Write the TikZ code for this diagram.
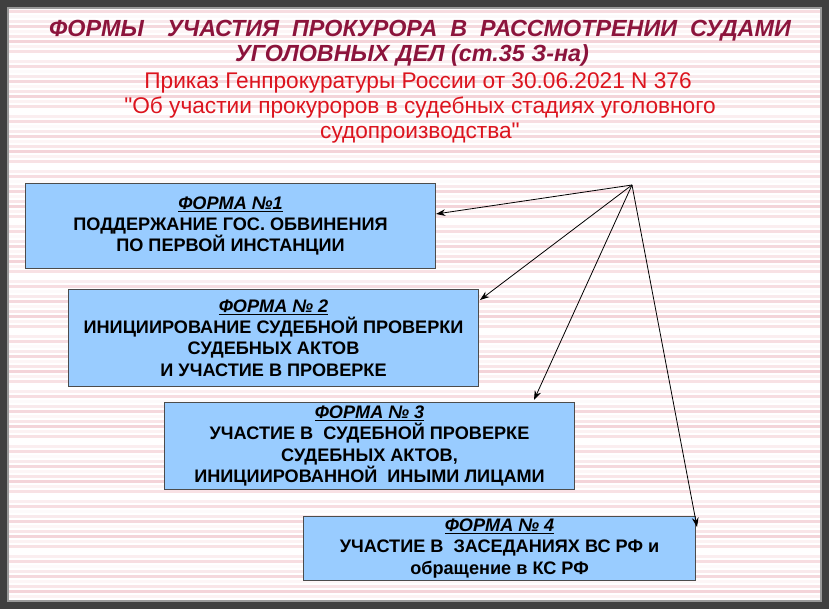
\documentclass[tikz,border=0pt]{standalone}
\usepackage{fontspec}
\setmainfont{Liberation Sans}[Ligatures=TeXOff]
\usetikzlibrary{arrows.meta}
\definecolor{bx}{RGB}{153,204,255}
\definecolor{ttl}{RGB}{140,20,60}
\definecolor{rd}{RGB}{220,20,30}
\definecolor{pk}{RGB}{235,170,180}
\tikzset{x=0.75pt,y=-0.75pt,
 formbox/.style={draw=black!70,line width=0.8pt,fill=bx,minimum width=410*0.75pt,anchor=north west,inner sep=0pt,align=center,font=\bfseries\fontsize{13.6}{16}\selectfont},
 arr/.style={-{Stealth[length=7pt,width=5pt]},line width=0.6pt}}
\begin{document}
\begin{tikzpicture}
\useasboundingbox (0,0) rectangle (829,609);
\fill[white] (0,0) rectangle (829,609);
\foreach \i in {0,...,120}{
  \pgfmathsetmacro{\o}{mod(\i*37,11)/11*0.55}
  \fill[pk,opacity=\o] (0,\i*5) rectangle (829,\i*5+3);
}
\draw[black!75,line width=6pt] (3,3) rectangle (826,606);
\draw[black!40,line width=2pt] (8,8) rectangle (821,601);
\node[text=ttl,font=\bfseries\itshape\fontsize{17.5}{20}\selectfont] (t1) at (420,31) {ФОРМЫ\quad УЧАСТИЯ\ \ ПРОКУРОРА\ \ В\ \ РАССМОТРЕНИИ\ \ СУДАМИ};
\node[text=ttl,font=\bfseries\itshape\fontsize{17.5}{20}\selectfont] (t2) at (412,55) {УГОЛОВНЫХ ДЕЛ (ст.35 З-на)};
\node[text=rd,font=\fontsize{17}{20}\selectfont] (t3) at (418,83) {Приказ Генпрокуратуры России от 30.06.2021 N 376};
\node[text=rd,font=\fontsize{17}{20}\selectfont] (t4) at (420,108) {"Об участии прокуроров в судебных стадиях уголовного};
\node[text=rd,font=\fontsize{17}{20}\selectfont] (t5) at (420,133) {судопроизводства"};
\node[formbox,minimum height=85*0.75pt] (b1) at (25,183) {\underline{\itshape ФОРМА №1}\\ПОДДЕРЖАНИЕ ГОС. ОБВИНЕНИЯ\\ПО ПЕРВОЙ ИНСТАНЦИИ};
\node[formbox,minimum height=97*0.75pt] (b2) at (68,289) {\underline{\itshape ФОРМА № 2}\\ИНИЦИИРОВАНИЕ СУДЕБНОЙ ПРОВЕРКИ\\СУДЕБНЫХ АКТОВ\\И УЧАСТИЕ В ПРОВЕРКЕ};
\node[formbox,minimum height=87*0.75pt] (b3) at (164,402) {\underline{\itshape ФОРМА № 3}\\УЧАСТИЕ В\ \ СУДЕБНОЙ ПРОВЕРКЕ\\СУДЕБНЫХ АКТОВ,\\ИНИЦИИРОВАННОЙ\ \ ИНЫМИ ЛИЦАМИ};
\node[formbox,minimum width=392*0.75pt,minimum height=64*0.75pt] (b4) at (303,516) {\underline{\itshape ФОРМА № 4}\\УЧАСТИЕ В\ \ ЗАСЕДАНИЯХ ВС РФ и\\обращение в КС РФ};
\coordinate (o) at (632,185);
\coordinate (e1) at (436,214);
\coordinate (e2) at (480,300);
\coordinate (e3) at (534,400);
\coordinate (e4) at (697,527);
\foreach \e in {e1,e2,e3,e4} \draw[arr] (o) -- (\e);
\end{tikzpicture}
\end{document}
